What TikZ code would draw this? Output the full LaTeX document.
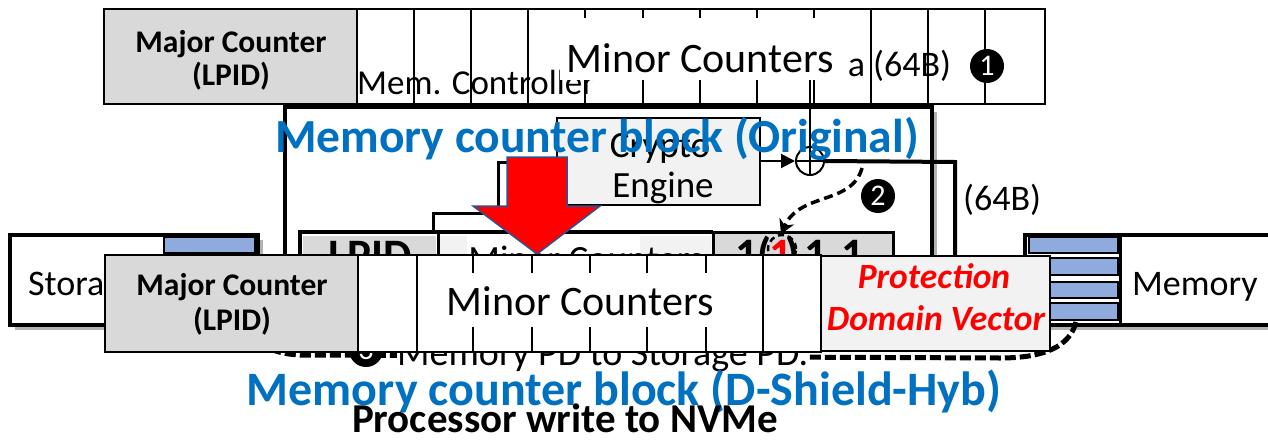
\documentclass[tikz,border=0pt]{standalone}
\usepackage{fontspec}
\setmainfont{Carlito}
\usetikzlibrary{arrows.meta,shadows}
\definecolor{cgray}{HTML}{D9D9D9}
\definecolor{clight}{HTML}{F2F2F2}
\definecolor{cblue}{HTML}{0070C0}
\definecolor{cstripe}{HTML}{8FAADC}
\definecolor{cred}{HTML}{FF0000}
\definecolor{cedge}{HTML}{2F528F}
\newcommand{\fsz}[1]{\fontsize{#1pt}{#1pt}\selectfont}
\begin{document}
\begin{tikzpicture}[x=1pt,y=-1pt,
  bigbox/.style={draw=black,line width=4pt,fill=white},
  boxshadow/.style={drop shadow={shadow xshift=5pt,shadow yshift=-5pt,opacity=0.3,fill=black}},
  stripe/.style={draw=black,line width=2pt,fill=cstripe},
  wire/.style={draw=black,line width=3pt},
  cell/.style={draw=black,line width=1.5pt},
  txt/.style={inner sep=0pt,anchor=base},
  numcirc/.style={circle,fill=black,inner sep=0pt,minimum size=34pt,text=white,font=\fsz{30}},
  bluetitle/.style={txt,text=cblue,font=\bfseries\fsz{47.5}},
  dig/.style={inner sep=0pt,anchor=base west,font=\bfseries\fsz{45}},
  majtxt/.style={txt,font=\bfseries\fsz{31.5}},
  pdvtxt/.style={txt,font=\bfseries\itshape\fsz{35.5},text=cred},
]
\useasboundingbox (0,0) rectangle (1268,439);
\fill[white] (0,0) rectangle (1268,439);

% ---------- background figure: Processor write to NVMe ----------
\draw[bigbox,boxshadow] (285,107) rectangle (932,345);
\draw[bigbox,boxshadow] (10,235) rectangle (258,325);
\foreach \a/\b in {237/253,258/275,282/298,303/320}
  \draw[stripe] (164,\a) rectangle (255,\b);
\node[txt,anchor=base west,font=\fsz{36}] (sto) at (28,295) {Storage};

\draw[bigbox,boxshadow] (1025,235) rectangle (1300,325);
\draw[line width=3pt] (1120,235) -- (1120,325);
\foreach \a/\b in {237/253,258/275,282/298,303/320}
  \draw[stripe] (1029,\a) rectangle (1118,\b);
\node[txt,anchor=base west,font=\fsz{36}] (memtxt) at (1132,295) {Memory};

% inner counter row
\fill[cgray] (303,236) rectangle (436,264);
\fill[clight] (440,236) rectangle (711,264);
\fill[white] (467,236) rectangle (640,264);
\draw[line width=4pt] (300,264) -- (300,232) -- (713,232);
\draw[line width=3pt] (438,232) -- (438,264);
\draw[line width=3pt,fill=cgray] (713,264) -- (713,232) -- (893,232) -- (893,264);
\node[txt,font=\bfseries\fsz{45}] (lpid) at (370,270) {LPID};
\node[txt,font=\fsz{37}] (mc0) at (586,271) {Minor Counters};
\node[dig] (g1) at (735,269) {1};
\node[dig] (g2) at (757,269) {(};
\node[dig,text=cred] (g3) at (769,269) {1};
\node[dig] (g4) at (785,269) {)};
\node[dig] (g5) at (804,269) {1};
\node[dig] (g6) at (841,269) {1};
\draw[line width=2.5pt,dash pattern=on 6pt off 4pt] (782,249) circle (14pt);

% wires to crypto
\draw[wire] (557,162) -- (498,162) -- (498,210);
\draw[wire] (433,232) -- (433,213) -- (585,213) -- (585,205);

\node[draw=black,line width=2pt,fill=clight,minimum width=203pt,minimum height=87pt,inner sep=0pt] (crypto) at (658.5,161.5) {};
\node[txt,font=\fsz{37}] (cr1) at (660,157) {Crypto};
\node[txt,font=\fsz{37}] (cr2) at (663,197) {Engine};

\node[circle,draw=black,line width=2pt,minimum size=28pt,inner sep=0pt] (xor) at (810,161) {};
\draw[line width=1.5pt] (xor.north) -- (xor.south) (xor.west) -- (xor.east);
\draw[line width=2pt,-{Triangle[length=14pt,width=14pt]}] (crypto.east |- xor.west) -- (xor.west);
\coordinate (vtop) at (810,80);
\draw[line width=2pt] (vtop) -- (xor.north);
\coordinate (outc) at (955,162);
\coordinate (outd) at (955,270);
\draw[line width=4pt] (xor.east) -- (outc) -- (outd);

\coordinate (d2s) at (862,168);
\coordinate (d2e) at (781,234);
\draw[line width=3.5pt,dash pattern=on 9pt off 5pt,-{Stealth[length=14pt,width=16pt]}] (d2s) .. controls (852,205) and (800,192) .. (d2e);
\node[numcirc] (n2) at (878,196) {2};
\node[txt,anchor=base west,font=\fsz{36}] (b64) at (963,210) {(64B)};

\node[txt,anchor=base west,font=\fsz{35}] (memc) at (357,94) {Mem. Controller};
\node[txt,anchor=base west,font=\fsz{36}] (data) at (797,76) {Data (64B)};

% step 3
\coordinate (p3a) at (1076,322);
\coordinate (p3b) at (1000,358);
\coordinate (p3c) at (300,355);
\coordinate (p3d) at (240,328);
\draw[line width=5pt,dash pattern=on 11pt off 4pt] (p3a) .. controls (1070,346) and (1045,358) .. (p3b) -- (p3c) .. controls (270,354) and (250,340) .. (p3d);
\node[txt,anchor=base west,fill=white,font=\fsz{38}] (mpd) at (397,365) {Memory PD to Storage PD.};
\node[numcirc] (n3) at (366,350) {3};

% ---------- top counter block (Original) ----------
\draw[cell,fill=cgray] (104,9) rectangle (357,104);
\foreach \x in {414,471,528,585,643,700,757,814,871,928,985}
  \draw[cell] (\x,9) -- (\x,104);
\draw[line width=2.5pt] (104,9) rectangle (1045,104);
\fill[white] (560,18) rectangle (848,80);
\node[txt,font=\fsz{42}] (mc1) at (700,72) {Minor Counters};
\node[majtxt] (maj1a) at (231,52) {Major Counter};
\node[majtxt] (maj1b) at (231,85) {(LPID)};
\node[numcirc] (n1) at (987,66) {1};

\node[bluetitle] (t1) at (597,152) {Memory counter block (Original)};

\draw[fill=cred,draw=cedge,line width=1.5pt] (507,157) -- (567,157) -- (567,206) -- (600,206) -- (537,254) -- (473,206) -- (507,206) -- cycle;

% ---------- bottom counter block (D-Shield-Hyb) ----------
\draw[cell,fill=cgray] (105,255) rectangle (358,352);
\draw[cell,fill=white] (358,255) rectangle (821,352);
\foreach \x in {417,473,532,590,647,706,763}
  \draw[cell] (\x,255) -- (\x,352);
\fill[white] (440,273) rectangle (720,327);
\node[txt,font=\fsz{42}] (mc2) at (580,315) {Minor Counters};
\node[majtxt] (maj2a) at (232,295) {Major Counter};
\node[majtxt] (maj2b) at (232,330) {(LPID)};
\draw[cell,fill=clight] (821,256) rectangle (1050,351);
\node[pdvtxt] (pdv1) at (934,288) {Protection};
\node[pdvtxt] (pdv2) at (936,330) {Domain Vector};

\node[bluetitle,font=\bfseries\fsz{48}] (t2) at (624,405) {Memory counter block (D-Shield-Hyb)};
\node[txt,font=\bfseries\fsz{41}] (t3) at (565,432) {Processor write to NVMe};
\end{tikzpicture}
\end{document}
